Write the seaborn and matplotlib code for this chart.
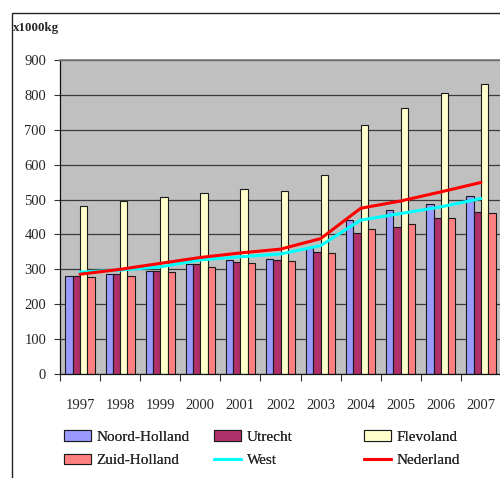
import numpy as np
import pandas as pd
import matplotlib
matplotlib.use("Agg")
import matplotlib.pyplot as plt
from matplotlib.patches import Patch, Rectangle
from matplotlib.lines import Line2D
import seaborn as sns

years = ['1997', '1998', '1999', '2000', '2001', '2002', '2003', '2004', '2005', '2006', '2007']
regions = ['Noord-Holland', 'Utrecht', 'Flevoland', 'Zuid-Holland']
noord_holland = [281, 287, 296, 314, 326, 331, 362, 440, 470, 486, 511]
utrecht = [281, 287, 296, 314, 321, 328, 350, 405, 422, 448, 465]
flevoland = [481, 496, 507, 518, 529, 525, 570, 715, 762, 806, 831]
zuid_holland = [277, 280, 291, 306, 317, 325, 346, 415, 431, 448, 462]
west = [292, 298, 307, 327, 336, 344, 368, 441, 460, 479, 503]
nederland = [286, 300, 317, 334, 347, 358, 388, 475, 496, 522, 549]

bar_colors = ['#9999FF', '#B0306A', '#FFFFCC', '#FF8080']

df = pd.DataFrame({
    'year': years * 4,
    'region': np.repeat(regions, len(years)),
    'value': noord_holland + utrecht + flevoland + zuid_holland,
})

sns.set_style("white")
plt.rcParams['font.family'] = ['Liberation Serif', 'DejaVu Serif']

fig = plt.figure(figsize=(5.0, 4.78), dpi=100)
W, H = 500, 478
ax = fig.add_axes([60 / W, (H - 374) / H, 441 / W, 314 / H])
ax.set_facecolor('#C0C0C0')

sns.barplot(data=df, x='year', y='value', hue='region', order=years, hue_order=regions,
            palette=bar_colors, width=0.73, edgecolor='#1a1a1a', linewidth=0.8,
            saturation=1, legend=False, ax=ax)
pos = np.arange(len(years))
sns.lineplot(x=pos, y=west, color='#00FFFF', linewidth=2.2, ax=ax)
sns.lineplot(x=pos, y=nederland, color='#FF0000', linewidth=2.2, ax=ax)

ax.set_xlim(-0.5, 10.5)
ax.set_ylim(0, 900)
ax.set_yticks(range(0, 901, 100))
ax.yaxis.grid(True, color='#3a3a3a', linewidth=0.9)
ax.set_axisbelow(True)

ax.set_xticks(np.arange(-0.5, 11, 1))
ax.set_xticklabels([])
ax.set_xticks(pos, minor=True)
ax.set_xticklabels(years, minor=True)
ax.tick_params(axis='x', which='major', length=5, width=0.8, color='#333333', direction='out', bottom=True)
ax.tick_params(axis='x', which='minor', length=0, pad=18, labelsize=10.5)
ax.tick_params(axis='y', length=4, width=0.8, color='#333333', direction='out', left=True, pad=6, labelsize=10.5)
ax.set_xlabel('')
ax.set_ylabel('')

for s in ['left', 'bottom']:
    ax.spines[s].set_color('#111111')
    ax.spines[s].set_linewidth(0.9)
ax.spines['top'].set_color('#7a7a7a')
ax.spines['top'].set_linewidth(1.2)
ax.spines['right'].set_visible(False)

fig.text(13 / W, 1 - 28 / H, 'x1000kg', fontsize=9.3, fontweight='bold', va='center', ha='left')

# outer chart frame
fig.add_artist(Rectangle((12 / W, -0.05), 1.0, 1 - 13 / H + 0.05, transform=fig.transFigure,
                         fill=False, edgecolor='#222222', linewidth=1.0))

cols = [
    [Patch(facecolor=bar_colors[0], edgecolor='#1a1a1a', linewidth=0.8),
     Patch(facecolor=bar_colors[3], edgecolor='#1a1a1a', linewidth=0.8)],
    [Patch(facecolor=bar_colors[1], edgecolor='#1a1a1a', linewidth=0.8),
     Line2D([], [], color='#00FFFF', linewidth=2.2)],
    [Patch(facecolor=bar_colors[2], edgecolor='#1a1a1a', linewidth=0.8),
     Line2D([], [], color='#FF0000', linewidth=2.2)],
]
col_labels = [['Noord-Holland', 'Zuid-Holland'], ['Utrecht', 'West'], ['Flevoland', 'Nederland']]
for i, x0 in enumerate([64, 214, 364]):
    leg = fig.legend(cols[i], col_labels[i], loc='upper left',
                     bbox_to_anchor=(x0 / W, 1 - 430 / H), frameon=False,
                     fontsize=11, handlelength=1.78, handleheight=0.7,
                     handletextpad=0.35, labelspacing=0.65, borderpad=0, borderaxespad=0)
    fig.add_artist(leg)

fig.savefig('out.png', dpi=100)
